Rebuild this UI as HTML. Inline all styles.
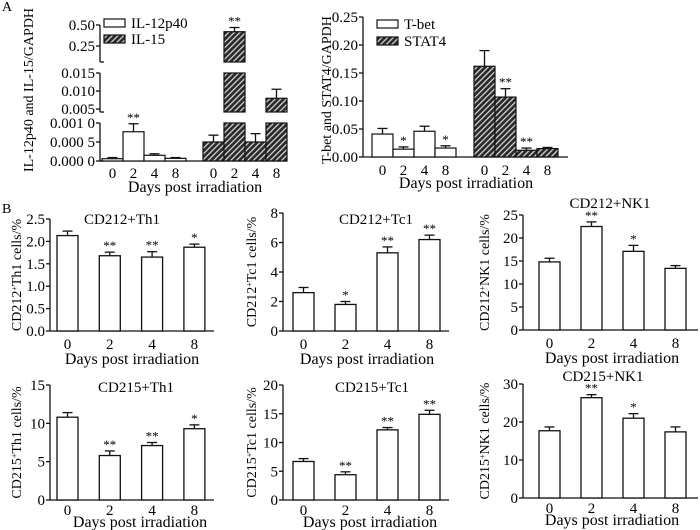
<!DOCTYPE html>
<html><head><meta charset="utf-8"><style>
html,body{margin:0;padding:0;background:#fff;width:700px;height:530px;overflow:hidden}
svg{font-family:"Liberation Serif",serif;}
</style></head><body>
<svg id="fig" width="700" height="530" viewBox="0 0 700 530" xmlns="http://www.w3.org/2000/svg">
<defs>
<pattern id="hatch" patternUnits="userSpaceOnUse" width="4" height="4" patternTransform="rotate(45)">
<rect width="4" height="4" fill="#2a2a2a"/><rect x="0" y="0" width="1.2" height="4" fill="#ddd"/>
</pattern>
</defs>
<text x="2" y="11" font-size="14">A</text>
<text x="2" y="213" font-size="14">B</text>
</svg>
<script>
// ---- data ----
const days = ["0","2","4","8"];
const il12Vals = [0.00006, 0.00077, 0.00015, 0.00007];
const il12Errs = [0.00009, 0.00098, 0.00019, 0.00009];
const il15Vals = [0.0005, 0.42, 0.0005, 0.008];
const il15Errs = [0.00068, 0.47, 0.00072, 0.0105];
const il12Stars = ["", "**", "", ""];
const il15Stars = ["", "**", "", ""];
const tbetVals = [0.041, 0.014, 0.046, 0.016];
const tbetErrs = [0.051, 0.018, 0.055, 0.020];
const stat4Vals = [0.162, 0.107, 0.012, 0.015];
const stat4Errs = [0.190, 0.122, 0.016, 0.017];
const tbetStars = ["", "*", "", "*"];
const stat4Stars = ["", "**", "**", ""];
const th1_212Vals = [2.13, 1.68, 1.65, 1.87];
const th1_212Errs = [2.23, 1.76, 1.77, 1.94];
const tc1_212Vals = [2.6, 1.8, 5.3, 6.2];
const tc1_212Errs = [2.95, 2.0, 5.7, 6.5];
const nk1_212Vals = [14.8, 22.5, 17.1, 13.4];
const nk1_212Errs = [15.6, 23.5, 18.4, 14.0];
const th1_215Vals = [10.8, 5.8, 7.1, 9.3];
const th1_215Errs = [11.4, 6.4, 7.5, 9.8];
const tc1_215Vals = [6.7, 4.4, 12.2, 14.9];
const tc1_215Errs = [7.2, 4.9, 12.6, 15.6];
const nk1_215Vals = [17.7, 26.4, 21.0, 17.4];
const nk1_215Errs = [18.7, 27.2, 22.2, 18.7];
const th1_212Stars = ["", "**", "**", "*"];
const tc1_212Stars = ["", "*", "**", "**"];
const nk1_212Stars = ["", "**", "*", ""];
const th1_215Stars = ["", "**", "**", "*"];
const tc1_215Stars = ["", "**", "**", "**"];
const nk1_215Stars = ["", "**", "*", ""];
const th1_212Ticks = ["0.0","0.5","1.0","1.5","2.0","2.5"];
const tc1_212Ticks = ["0","2","4","6","8"];
const nk1_212Ticks = ["0","5","10","15","20","25"];
const th1_215Ticks = ["0","5","10","15"];
const tc1_215Ticks = ["0","5","10","15","20"];
const nk1_215Ticks = ["0","10","20","30"];
const tbetTicks = ["0.00","0.05","0.10","0.15","0.20","0.25"];
const segATicks = ["0.000 0","0.000 5","0.001 0"];
const segBTicks = ["0.005","0.010","0.015"];
const segCTicks = ["0.25","0.50"];

const NS="http://www.w3.org/2000/svg";
const svg=document.getElementById('fig');
const TICK=15, TITLE=15, XT=16;
function mk(tag,attrs,parent){const e=document.createElementNS(NS,tag);for(const k in attrs)e.setAttribute(k,attrs[k]);(parent||svg).appendChild(e);return e;}
function line(x1,y1,x2,y2,g){return mk('line',{x1,y1,x2,y2,stroke:'#111','stroke-width':1.3},g);}
function txt(x,y,s,anchor,size,g){const t=mk('text',{x,y,'text-anchor':anchor||'middle','font-size':size||13},g);t.textContent=s;return t;}

function ylabel(g,x,y,main,sup,rest,size){
  const t=mk('text',{x:0,y:0,'text-anchor':'middle','font-size':size||14,transform:`translate(${x},${y}) rotate(-90)`},g);
  
  
  const a=mk('tspan',{},t);a.textContent=main;
  if(sup){const b=mk('tspan',{'baseline-shift':'super','font-size':8},t);b.textContent=sup;
    const c=mk('tspan',{'baseline-shift':'0'},t);c.textContent=rest;}
}

function panel(name,o){
  const g=mk('g',{});
  
  
  const n=o.ticks.length-1, max=parseFloat(o.ticks[n]);
  const y=v=>o.y0-(v/max)*(o.y0-o.yTop);
  const bx=i=>o.x0+o.first+i*o.pitch;
  line(o.x0,o.yTop,o.x0,o.y0,g);
  line(o.x0,o.y0,o.xEnd,o.y0,g);
  o.ticks.forEach((t,i)=>{const v=parseFloat(t);const yy=y(v);line(o.x0-4,yy,o.x0,yy,g);
    const tt=txt(o.x0-5,yy+5,t,'end',TICK,g);
    
    });
  o.vals.forEach((v,i)=>{
    const x=bx(i), cx=x+o.w/2;
    const e=y(o.errs[i]);
    line(cx,e,cx,y(v),g);line(cx-5,e,cx+5,e,g);
    const r=mk('rect',{x,y:y(v),width:o.w,height:o.y0-y(v),fill:'#fff',stroke:'#111','stroke-width':1.3},g);
    
    
    if(o.stars[i]){const s=txt(cx,e-2,o.stars[i],'middle',13,g);
      
      }
    const xl=txt(cx,o.y0+o.tOff,days[i],'middle',TICK,g);
    
    
  });
  const xt=txt(o.xTitleX,o.y0+o.xtOff,'Days post irradiation','middle',XT,g);
  
  
  const ti=txt(o.titleX,o.titleY,o.title,'middle',TITLE,g);
  
  
  ylabel(g,o.ylx,(o.yTop+o.y0)/2,o.yl[0],o.yl[1],o.yl[2],14);
}

const r1={tOff:18,xtOff:33}, r2={tOff:15,xtOff:27};
panel('cd212-th1-chart',{...r1,x0:50,xEnd:214,yTop:219,y0:331,first:7,pitch:42.3,w:21,ticks:th1_212Ticks,vals:th1_212Vals,errs:th1_212Errs,stars:th1_212Stars,title:'CD212+Th1',titleX:122,titleY:224,xTitleX:132,ylx:21,yl:['CD212','+','Th1 cells/%']});
panel('cd212-tc1-chart',{...r1,x0:283,xEnd:449,yTop:213,y0:331,first:10,pitch:42,w:21,ticks:tc1_212Ticks,vals:tc1_212Vals,errs:tc1_212Errs,stars:tc1_212Stars,title:'CD212+Tc1',titleX:376,titleY:224,xTitleX:367,ylx:256,yl:['CD212','+','Tc1 cells/%']});
panel('cd212-nk1-chart',{...r1,x0:523,xEnd:698,yTop:215,y0:330,first:16,pitch:42,w:21,ticks:nk1_212Ticks,vals:nk1_212Vals,errs:nk1_212Errs,stars:nk1_212Stars,title:'CD212+NK1',titleX:610,titleY:208,xTitleX:612,ylx:489,yl:['CD212','+','NK1 cells/%']});
panel('cd215-th1-chart',{...r2,x0:50,xEnd:214,yTop:385,y0:500,first:7,pitch:42.3,w:21,ticks:th1_215Ticks,vals:th1_215Vals,errs:th1_215Errs,stars:th1_215Stars,title:'CD215+Th1',titleX:136,titleY:392,xTitleX:140,ylx:21,yl:['CD215','+','Th1 cells/%']});
panel('cd215-tc1-chart',{...r2,x0:283,xEnd:449,yTop:385,y0:500,first:10,pitch:42,w:21,ticks:tc1_215Ticks,vals:tc1_215Vals,errs:tc1_215Errs,stars:tc1_215Stars,title:'CD215+Tc1',titleX:372,titleY:392,xTitleX:370,ylx:256,yl:['CD215','+','Tc1 cells/%']});
panel('cd215-nk1-chart',{...r2,x0:523,xEnd:698,yTop:384,y0:498,first:16,pitch:42,w:21,ticks:nk1_215Ticks,vals:nk1_215Vals,errs:nk1_215Errs,stars:nk1_215Stars,title:'CD215+NK1',titleX:603,titleY:381,xTitleX:612,ylx:489,yl:['CD215','+','NK1 cells/%']});

function legend(g,x,y,label,fill){
  const r=mk('rect',{x,y,width:21,height:8,fill,stroke:'#111','stroke-width':1.2},g);
  
  
  const t=txt(x+27,y+9,label,'start',TITLE,g);
  
  
}

(function(){
  const g=mk('g',{});
  
  
  const x0=363,y0=157,yTop=17,max=0.25;
  const y=v=>y0-(v/max)*(y0-yTop);
  line(x0,yTop,x0,y0,g);line(x0,y0,568,y0,g);
  tbetTicks.forEach(t=>{const yy=y(parseFloat(t));line(x0-4,yy,x0,yy,g);
    const tt=txt(x0-5,yy+5,t,'end',TICK,g);
    
    });
  function series(vals,errs,stars,start,fill,nm){
    vals.forEach((v,i)=>{const x=start+i*21,cx=x+10.5,e=y(errs[i]);
      line(cx,e,cx,y(v),g);line(cx-5,e,cx+5,e,g);
      const r=mk('rect',{x,y:y(v),width:21,height:y0-y(v),fill,stroke:'#111','stroke-width':1.2},g);
      
      
      if(stars[i]){const s=txt(cx,e-2,stars[i],'middle',13,g);
        
        }
      const xl=txt(cx,y0+18,days[i],'middle',TICK,g);
      
      });
  }
  series(tbetVals,tbetErrs,tbetStars,372,'#fff','tbet');
  series(stat4Vals,stat4Errs,stat4Stars,474,'url(#hatch)','stat4');
  const xt=txt(466,188,'Days post irradiation','middle',XT,g);
  
  
  legend(g,377,20,'T-bet','#fff');
  legend(g,377,37,'STAT4','url(#hatch)');
  ylabel(g,331,90,'T-bet and STAT4/GAPDH','','',14);
})();

(function(){
  const g=mk('g',{});
  
  
  const x0=100,y0=161;
  const segs=[{lo:0,hi:0.001,ylo:161,yhi:123,ticks:segATicks},
              {lo:0.0042,hi:0.015,ylo:112,yhi:73,ticks:segBTicks},
              {lo:0.06,hi:0.5,ylo:62,yhi:25,ticks:segCTicks}];
  const ys=(s,v)=>s.ylo-(v-s.lo)/(s.hi-s.lo)*(s.ylo-s.yhi);
  const yAny=v=>{for(const s of segs){if(v<=s.hi)return ys(s,Math.max(v,s.lo));}return segs[2].yhi;};
  segs.forEach(s=>{line(x0,s.ylo,x0,s.yhi,g);line(x0,s.ylo,x0+4,s.ylo,g);
    s.ticks.forEach(t=>{const v=parseFloat(t.replace(/ /g,''));const yy=ys(s,v);line(x0-4,yy,x0,yy,g);
      const tt=txt(x0-5,yy+5,t,'end',TICK,g);
      
      });});
  line(x0,y0,287,y0,g);
  function series(vals,errs,stars,start,fill,nm){
    vals.forEach((v,i)=>{const x=start+i*21,cx=x+10.5;
      const e=yAny(errs[i]);
      line(cx,e,cx,yAny(v),g);line(cx-5,e,cx+5,e,g);
      segs.forEach(s=>{if(v>s.lo){const top=ys(s,Math.min(v,s.hi));
        const r=mk('rect',{x,y:top,width:21,height:s.ylo-top,fill,stroke:'#111','stroke-width':1.2},g);
        
        }});
      if(stars[i]){const st=txt(cx,e-2,stars[i],'middle',13,g);
        
        }
      const xl=txt(cx,y0+17,days[i],'middle',TICK,g);
      
      });
  }
  series(il12Vals,il12Errs,il12Stars,102,'#fff','il12p40');
  series(il15Vals,il15Errs,il15Stars,203,'url(#hatch)','il15');
  const xt=txt(195,192,'Days post irradiation','middle',XT,g);
  
  
  legend(g,104,19,'IL-12p40','#fff');
  legend(g,104,35,'IL-15','url(#hatch)');
  ylabel(g,33,90,'IL-12p40 and IL-15/GAPDH','','',14);
})();
</script>
</body></html>
